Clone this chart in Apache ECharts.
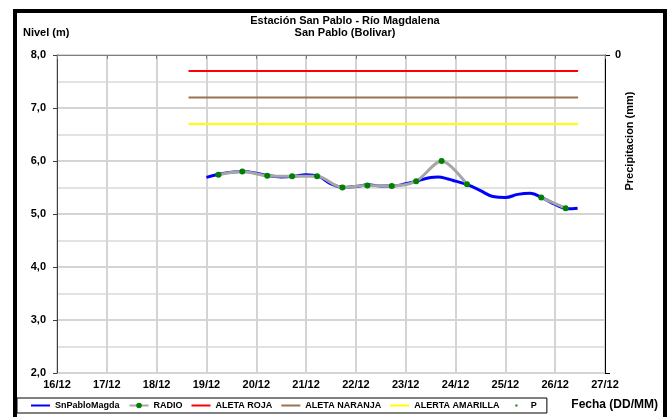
<!DOCTYPE html>
<html><head><meta charset="utf-8">
<script src="https://cdn.jsdelivr.net/npm/echarts@6/dist/echarts.min.js"></script>
<style>html,body{margin:0;padding:0;background:#fff}#c{width:668px;height:417px}</style>
</head><body><div id="c"></div>
<script>
// Days of December (x axis) and tick labels
const xTickDays = [16,17,18,19,20,21,22,23,24,25,26,27];
const yTicks = [2,3,4,5,6,7,8];

// SnPabloMagda (continuous level series)
const nivelDays   = [19.0,19.25,19.5,19.75,20.0,20.25,20.5,20.75,21.0,21.25,21.5,21.75,22.0,22.25,22.5,22.75,23.0,23.25,23.5,23.65,23.85,24.0,24.25,24.5,24.75,25.0,25.25,25.5,25.75,26.0,26.25,26.45];
const nivelValues = [5.69,5.75,5.79,5.80,5.77,5.72,5.70,5.71,5.74,5.71,5.57,5.50,5.52,5.55,5.53,5.53,5.57,5.63,5.69,5.70,5.66,5.62,5.55,5.44,5.33,5.31,5.37,5.39,5.30,5.18,5.10,5.11];

// RADIO readings (null = missing)
const radioDays   = [19.24,19.72,20.22,20.72,21.22,21.73,22.23,22.72,23.21,23.72,24.23,24.72,25.22,25.72,26.21];
const radioValues = [5.74,5.80,5.72,5.71,5.71,5.50,5.54,5.53,5.62,6.00,5.56,null,null,5.31,5.11];

// Alert thresholds
const alertDays = [18.64, 26.46];
const rojaValues = [7.7, 7.7];
const naranjaValues = [7.2, 7.2];
const amarillaValues = [6.7, 6.7];

const zip = (xs, ys) => xs.map((x, i) => [x, ys[i]]);
const FONT = '"Liberation Sans", Arial, sans-serif';
const LINE_ICON = 'path://M0,0M19,7M0,2.5h19v2h-19z';

const chart = echarts.init(document.getElementById('c'), null, {renderer: 'canvas'});
chart.setOption({
  animation: false,
  backgroundColor: '#fff',
  title: {
    text: 'Estación San Pablo - Río Magdalena\nSan Pablo (Bolivar)',
    left: 345, top: 15, textAlign: 'center', padding: 0,
    textStyle: {fontFamily: FONT, fontSize: 11, fontWeight: 'bold', color: '#000', lineHeight: 12}
  },
  grid: {left: 57, right: 63, top: 55, bottom: 44},
  xAxis: {
    type: 'value', min: 16, max: 27, interval: 1,
    axisLine: {show: true, lineStyle: {color: '#808080', width: 1}},
    axisTick: {show: true, length: 4, lineStyle: {color: '#808080'}},
    axisLabel: {formatter: v => v + '/12', fontFamily: FONT, fontSize: 11, fontWeight: 'bold', color: '#000', margin: 6},
    splitLine: {show: true, lineStyle: {color: '#d4d4d4', width: 2}}
  },
  yAxis: [{
    type: 'value', min: 2, max: 8, interval: 1,
    axisLine: {show: true, lineStyle: {color: '#404040', width: 1}},
    axisTick: {show: true, length: 4, lineStyle: {color: '#404040'}},
    axisLabel: {formatter: v => v.toFixed(1).replace('.', ','), fontFamily: FONT, fontSize: 11, fontWeight: 'bold', color: '#000', margin: 11},
    splitLine: {show: true, lineStyle: {color: '#d4d4d4', width: 2}},
    minorTick: {show: false, splitNumber: 2},
    minorSplitLine: {show: true, lineStyle: {color: '#e2e2e2', width: 2}}
  }, {
    type: 'value', position: 'right', min: 0, max: 1, interval: 1, inverse: true,
    axisLine: {show: true, lineStyle: {color: '#000', width: 1}},
    axisTick: {show: true, length: 5, lineStyle: {color: '#000'}},
    axisLabel: {formatter: v => v === 0 ? '0' : '', fontFamily: FONT, fontSize: 11, fontWeight: 'bold', color: '#000', margin: 10},
    splitLine: {show: false}
  }],
  legend: {
    left: 17, top: 398,
    borderColor: '#000', borderWidth: 1, padding: [3, 10, 3, 14],
    itemGap: 9, itemWidth: 19, itemHeight: 7,
    textStyle: {fontFamily: FONT, fontSize: 9, fontWeight: 'bold', color: '#000'},
    data: [
      {name: 'SnPabloMagda', icon: LINE_ICON},
      {name: 'RADIO'},
      {name: 'ALETA ROJA', icon: LINE_ICON},
      {name: 'ALETA NARANJA', icon: LINE_ICON},
      {name: 'ALERTA AMARILLA', icon: LINE_ICON},
      {name: 'P', icon: 'path://M0,0M18,8M7.5,4a1.5,1.5 0 1,0 3,0a1.5,1.5 0 1,0 -3,0z'}
    ]
  },
  graphic: [
    {type: 'rect', silent: true, shape: {x: 15, y: 11, width: 650, height: 412},
     style: {fill: null, stroke: '#000', lineWidth: 4}, z: 100},
    {type: 'text', left: 23, top: 27,
     style: {text: 'Nivel (m)', font: 'bold 11px ' + FONT, fill: '#000'}},
    {type: 'text', x: 630, y: 141, rotation: Math.PI / 2,
     style: {text: 'Precipitacion (mm)', font: 'bold 11px ' + FONT, fill: '#000', align: 'center', verticalAlign: 'middle'}},
    {type: 'text', x: 658, y: 405,
     style: {text: 'Fecha (DD/MM)', font: 'bold 12px ' + FONT, fill: '#000', align: 'right', verticalAlign: 'middle'}}
  ],
  series: [
    {name: 'SnPabloMagda', type: 'line', data: zip(nivelDays, nivelValues), smooth: 0.4,
     symbol: 'none', lineStyle: {color: '#0000ff', width: 3}, itemStyle: {color: '#0000ff'}, z: 3},
    {name: 'RADIO', type: 'line', data: zip(radioDays, radioValues), smooth: 0.3, connectNulls: false,
     symbol: 'circle', symbolSize: 6, showSymbol: true,
     lineStyle: {color: '#a6a6a6', width: 3}, itemStyle: {color: '#008000'}, z: 4},
    {name: 'ALETA ROJA', type: 'line', data: zip(alertDays, rojaValues), symbol: 'none',
     lineStyle: {color: '#ff0000', width: 2}, itemStyle: {color: '#ff0000'}},
    {name: 'ALETA NARANJA', type: 'line', data: zip(alertDays, naranjaValues), symbol: 'none',
     lineStyle: {color: '#9b7350', width: 2}, itemStyle: {color: '#9b7350'}},
    {name: 'ALERTA AMARILLA', type: 'line', data: zip(alertDays, amarillaValues), symbol: 'none',
     lineStyle: {color: '#ffff00', width: 2}, itemStyle: {color: '#ffff00'}},
    {name: 'P', type: 'scatter', yAxisIndex: 1, data: [], symbolSize: 3, itemStyle: {color: '#008000'}}
  ]
});
</script>
</body></html>
